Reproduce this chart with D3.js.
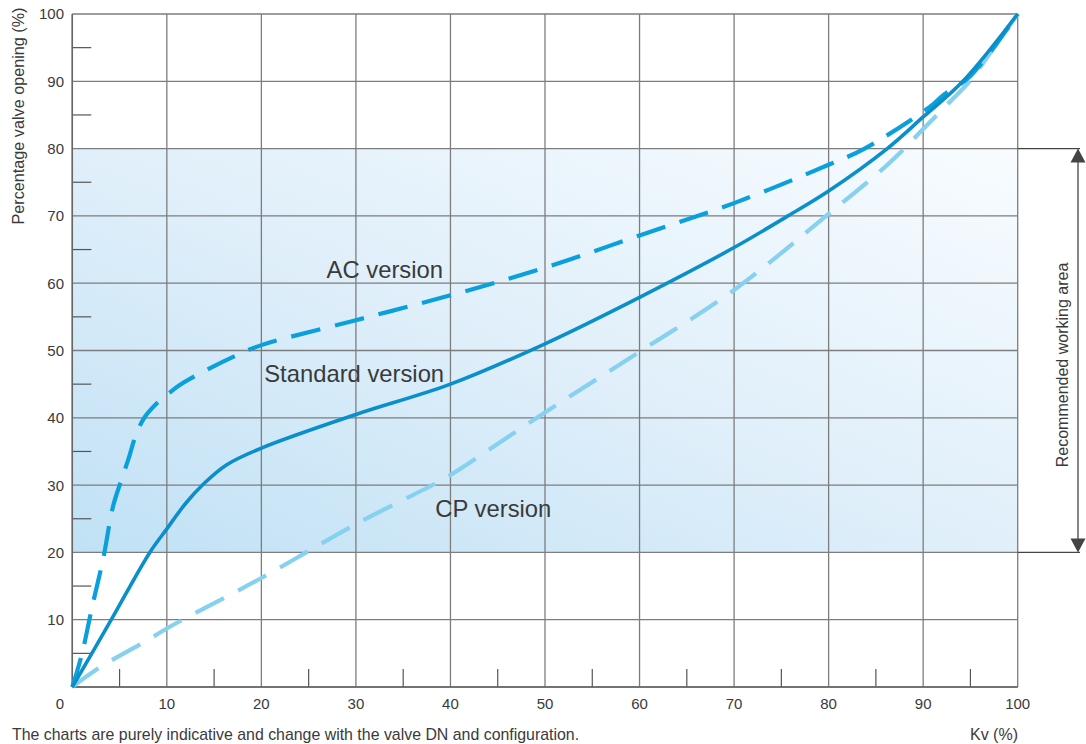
<!DOCTYPE html>
<html><head><meta charset="utf-8">
<script src="https://cdn.jsdelivr.net/npm/d3@7/dist/d3.min.js"></script>
<style>
html,body{margin:0;padding:0;background:#fff;}
text{font-family:"Liberation Sans",Arial,Helvetica,sans-serif;fill:#3a3a3a;}
</style></head>
<body>
<svg id="chart" width="1086" height="744"></svg>
<script>
// ---- data ----
const xTicks = [0,10,20,30,40,50,60,70,80,90,100];
const yTicks = [10,20,30,40,50,60,70,80,90,100];
const minorTicks = [5,15,25,35,45,55,65,75,85,95];
const workingArea = [20,80];

const stdX = [0,4,8.2,10,12,13.9,16.3,20,30,40,50,60,70,75.7,80,86.2,90,94.2,100];
const stdY = [0,9.7,20,23.5,27.3,30.2,33,35.5,40.5,45,51,57.9,65.3,70,73.7,80,84.7,90,100];

const acX = [0,1,2.05,3.3,4.3,5.2,5.9,6.8,7.7,8.9,10,11.4,14.2,17.4,20,30,40,50,60,70,80,83.8,90.7,92.1,95,100];
const acY = [0,4.8,11.6,19.3,26.8,30.8,33.7,37.7,40.2,42.1,43.4,44.9,47.1,49.3,50.8,54.5,58.2,62.3,67.1,71.9,77.6,80,86.2,87.9,90.8,100];

const cpX = [0,2.9,7.9,10,20,30,38.5,40,50,60,70,80,85.5,88,90,92.8,94.9,97,100];
const cpY = [0,2.9,6.9,8.7,16.2,24.2,30.3,31.5,40.8,49.8,59,70.3,76.7,80,82.9,86.9,90,94,100];

const seriesNames = ["AC version","Standard version","CP version"];

// ---- chart ----
const svg = d3.select("#chart");
const x = d3.scaleLinear().domain([0,100]).range([72.3,1017.7]);
const y = d3.scaleLinear().domain([0,100]).range([687,14]);

const defs = svg.append("defs");
const grad = defs.append("linearGradient").attr("id","wa")
  .attr("x1",0).attr("y1",1).attr("x2",1).attr("y2",0);
grad.append("stop").attr("offset","0%").attr("stop-color","#c0e1f5");
grad.append("stop").attr("offset","50%").attr("stop-color","#e0effa");
grad.append("stop").attr("offset","100%").attr("stop-color","#f8fcff");

svg.append("rect")
  .attr("x",x(0)).attr("y",y(workingArea[1]))
  .attr("width",x(100)-x(0)).attr("height",y(workingArea[0])-y(workingArea[1]))
  .attr("fill","url(#wa)");

// grid
const gridColor = "#7d7d7d";
svg.append("g").selectAll("line").data(xTicks).join("line")
  .attr("x1",d=>x(d)).attr("x2",d=>x(d)).attr("y1",y(0)).attr("y2",y(100))
  .attr("stroke",gridColor).attr("stroke-width",1.3);
svg.append("g").selectAll("line").data([0].concat(yTicks)).join("line")
  .attr("x1",x(0)).attr("x2",x(100)).attr("y1",d=>y(d)).attr("y2",d=>y(d))
  .attr("stroke",gridColor).attr("stroke-width",1.3);

// minor ticks
svg.append("g").selectAll("line").data(minorTicks).join("line")
  .attr("x1",x(0)).attr("x2",x(0)+19).attr("y1",d=>y(d)).attr("y2",d=>y(d))
  .attr("stroke","#555").attr("stroke-width",1.2);
svg.append("g").selectAll("line").data(minorTicks).join("line")
  .attr("x1",d=>x(d)).attr("x2",d=>x(d)).attr("y1",y(0)).attr("y2",y(0)-18)
  .attr("stroke","#555").attr("stroke-width",1.2);

// axis lines
svg.append("line").attr("x1",x(0)).attr("x2",x(100)).attr("y1",y(0)).attr("y2",y(0)).attr("stroke","#666").attr("stroke-width",1.5);
svg.append("line").attr("x1",x(0)).attr("x2",x(0)).attr("y1",y(0)).attr("y2",y(100)).attr("stroke","#666").attr("stroke-width",1.5);

// tick labels
svg.append("g").selectAll("text").data(yTicks).join("text")
  .attr("x",64).attr("y",d=>y(d)).attr("dy","0.36em")
  .attr("text-anchor","end").attr("font-size",15).text(d=>d);
svg.append("g").selectAll("text").data(xTicks).join("text")
  .attr("x",d=>d===0?60:x(d)).attr("y",709)
  .attr("text-anchor","middle").attr("font-size",15).text(d=>d);

// axis titles
svg.append("text").attr("transform","translate(23.5,116) rotate(-90)")
  .attr("text-anchor","middle").attr("font-size",16.2).text("Percentage valve opening (%)");
svg.append("text").attr("x",1018).attr("y",740).attr("text-anchor","end")
  .attr("font-size",16).text("Kv (%)");
svg.append("text").attr("x",12).attr("y",740).attr("font-size",15.9)
  .text("The charts are purely indicative and change with the valve DN and configuration.");

// working-area bracket
const bx = 1078;
svg.selectAll(".br").data(workingArea).join("line").attr("class","br")
  .attr("x1",x(100)).attr("x2",bx+2).attr("y1",d=>y(d)).attr("y2",d=>y(d))
  .attr("stroke","#444").attr("stroke-width",1.3);
svg.append("line").attr("x1",bx).attr("x2",bx).attr("y1",y(80)+10).attr("y2",y(20)-10)
  .attr("stroke","#444").attr("stroke-width",1.3);
svg.append("path").attr("d",`M${bx},${y(80)} L${bx-7.5},${y(80)+14} L${bx+7.5},${y(80)+14}Z`).attr("fill","#444");
svg.append("path").attr("d",`M${bx},${y(20)} L${bx-7.5},${y(20)-14} L${bx+7.5},${y(20)-14}Z`).attr("fill","#444");
svg.append("text").attr("transform",`translate(1068,365) rotate(-90)`)
  .attr("text-anchor","middle").attr("font-size",16).text("Recommended working area");

// curves
const line = d3.line().x(d=>x(d[0])).y(d=>y(d[1])).curve(d3.curveCatmullRom.alpha(0.5));
const zip = (a,b)=>a.map((v,i)=>[v,b[i]]);

svg.append("path").datum(zip(cpX,cpY)).attr("d",line)
  .attr("fill","none").attr("stroke","#86d0f0").attr("stroke-width",4.2)
  .attr("stroke-dasharray","32,16");
svg.append("path").datum(zip(acX,acY)).attr("d",line)
  .attr("fill","none").attr("stroke","#0aa0dc").attr("stroke-width",4.2)
  .attr("stroke-dasharray","30,15");
svg.append("path").datum(zip(stdX,stdY)).attr("d",line)
  .attr("fill","none").attr("stroke","#0a8fca").attr("stroke-width",3.6);

// series labels
const labelPos = [[26.9,62],[20.3,46.6],[38.4,26.5]];
svg.append("g").selectAll("text").data(seriesNames).join("text")
  .attr("x",(d,i)=>x(labelPos[i][0])).attr("y",(d,i)=>y(labelPos[i][1])).attr("dy","0.35em")
  .attr("font-size",23.8).text(d=>d);
</script>
</body></html>
